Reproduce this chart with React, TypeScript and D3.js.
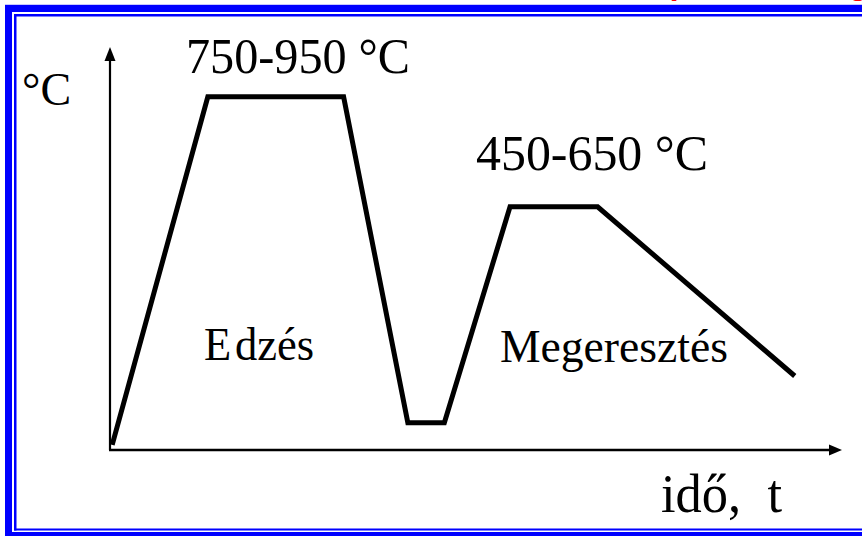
import React from "react";
import * as d3 from "d3";

// Heat-treatment cycle (quenching + tempering), arbitrary time / temperature units
const timeValues = [0.3, 13.4, 32, 40.8, 45.8, 54.8, 66.8, 93.8];
const tempValues = [1.3, 88.3, 88.3, 6.8, 6.8, 60.8, 60.8, 18.5];

const yAxisLabel = "°C";
const xAxisLabel = "idő,\u00a0\u00a0t";
const rangeLabels = ["750-950\u00a0°C", "450-650 °C"];
const phaseLabels = ["E\u200adzés", "Megeresztés"];
const titleText = "Nemesítés (edzés + megeresztés)";

const W = 862;
const H = 536;

export default function App() {
  const x = d3.scaleLinear().domain([0, 100]).range([110, 840]);
  const y = d3.scaleLinear().domain([0, 100]).range([450, 50]);

  const pts: [number, number][] = timeValues.map((t, i) => [t, tempValues[i]]);
  const line = d3
    .line<[number, number]>()
    .x((d) => x(d[0]))
    .y((d) => y(d[1]));

  const x0 = x(0);
  const y0 = y(0);
  const xEnd = x(100);
  const yTop = y(100.75);

  const serif = "'Liberation Serif', 'Times New Roman', serif";
  const blue = "#0000ff";

  return (
    <svg
      width={W}
      height={H}
      style={{ position: "absolute", left: 0, top: 0, background: "#fff" }}
      xmlns="http://www.w3.org/2000/svg"
    >
      <rect x={0} y={0} width={W} height={H} fill="#fff" />
      {/* red title, cut off at the top as in the reference */}
      <text
        x={497}
        y={-6}
        fill="#ff0000"
        fontFamily="'Liberation Sans', Arial, sans-serif"
        fontWeight="bold"
        fontSize={32}
      >
        {titleText}
      </text>

      {/* double blue frame */}
      <rect x={5} y={4} width={W} height={1} fill="#c8c8ff" />
      <rect x={5} y={5} width={W} height={7} fill={blue} />
      <rect x={5} y={5} width={7} height={531} fill={blue} />
      <rect x={5} y={532} width={W} height={4} fill={blue} />
      <rect x={14} y={14} width={W} height={2.5} fill={blue} />
      <rect x={14} y={14} width={2.5} height={516.5} fill={blue} />
      <rect x={14} y={528.5} width={W} height={2} fill={blue} />

      {/* axes */}
      <line x1={x0} y1={y0} x2={x0} y2={yTop + 10} stroke="#000" strokeWidth={2.2} />
      <path
        d={`M${x0},${yTop} L${x0 - 5.5},${yTop + 14} L${x0 + 5.5},${yTop + 14} Z`}
        fill="#000"
      />
      <line x1={x0 - 1} y1={y0} x2={xEnd - 8} y2={y0} stroke="#000" strokeWidth={2.4} />
      <path
        d={`M${xEnd + 2},${y0} L${xEnd - 11},${y0 - 5.5} L${xEnd - 11},${y0 + 5.5} Z`}
        fill="#000"
      />

      {/* process curve */}
      <path
        d={line(pts) || ""}
        fill="none"
        stroke="#000"
        strokeWidth={5}
        strokeLinejoin="miter"
        strokeLinecap="butt"
      />

      {/* labels */}
      <g fontFamily={serif} fill="#000">
        <text x={22} y={105} fontSize={46}>
          {yAxisLabel}
        </text>
        <text x={186} y={73} fontSize={50} textLength={224} lengthAdjust="spacingAndGlyphs">
          {rangeLabels[0]}
        </text>
        <text x={476} y={170} fontSize={50} textLength={232} lengthAdjust="spacingAndGlyphs">
          {rangeLabels[1]}
        </text>
        <text x={204} y={360} fontSize={46} textLength={110} lengthAdjust="spacingAndGlyphs">
          {phaseLabels[0]}
        </text>
        <text x={500} y={362} fontSize={46} textLength={228} lengthAdjust="spacingAndGlyphs">
          {phaseLabels[1]}
        </text>
        <text x={661} y={512} fontSize={54} textLength={121} lengthAdjust="spacingAndGlyphs">
          {xAxisLabel}
        </text>
      </g>
    </svg>
  );
}
